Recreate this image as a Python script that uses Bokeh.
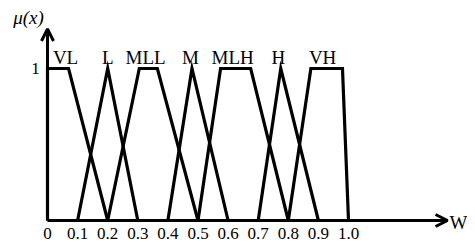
from bokeh.plotting import figure
from bokeh.models import Arrow, OpenHead, Range1d
from bokeh.core.properties import value
from bokeh.embed import file_html
from bokeh.resources import INLINE

# Membership function breakpoints
set_names = ["VL", "L", "MLL", "M", "MLH", "H", "VH"]
set_x = [
    [0.0, 0.0, 0.07, 0.2],
    [0.1, 0.2, 0.3],
    [0.2, 0.305, 0.365, 0.5],
    [0.4, 0.48, 0.6],
    [0.5, 0.575, 0.675, 0.8],
    [0.7, 0.775, 0.9],
    [0.8, 0.875, 0.98, 1.0],
]
set_mu = [
    [0, 1, 1, 0],
    [0, 1, 0],
    [0, 1, 1, 0],
    [0, 1, 0],
    [0, 1, 1, 0],
    [0, 1, 0],
    [0, 1, 1, 0],
]
label_x = [0.06, 0.2, 0.326, 0.475, 0.615, 0.767, 0.914]
tick_values = [0.0, 0.1, 0.2, 0.3, 0.4, 0.5, 0.6, 0.7, 0.8, 0.9, 1.0]
tick_labels = ["0", "0.1", "0.2", "0.3", "0.4", "0.5", "0.6", "0.7", "0.8", "0.9", "1.0"]

W, H = 467, 242
px_per_x = 301.0
px_per_y = 152.0
x0_px = 47.0
y0_px = 220.0  # from top

p = figure(width=W, height=H, output_backend="svg", toolbar_location=None,
           x_range=Range1d(-x0_px / px_per_x, (W - x0_px) / px_per_x),
           y_range=Range1d(-(H - y0_px) / px_per_y, y0_px / px_per_y),
           min_border=0)
p.xaxis.visible = False
p.yaxis.visible = False
p.xgrid.visible = False
p.ygrid.visible = False
p.outline_line_color = None
p.background_fill_color = "white"
p.border_fill_color = "white"

FONT = value("Liberation Serif")

p.multi_line(xs=set_x, ys=set_mu, line_color="black", line_width=3.2, line_join="miter")

# axes with arrows
x_end = 1.329
y_end = 1.26
p.add_layout(Arrow(x_start=0, y_start=0, x_end=x_end, y_end=0, line_width=3,
                   end=OpenHead(size=12, line_width=3, line_color="black")))
p.add_layout(Arrow(x_start=0, y_start=0, x_end=0, y_end=y_end, line_width=3,
                   end=OpenHead(size=12, line_width=3, line_color="black")))

# set labels
p.text(x=label_x, y=[1.072] * len(set_names), text=set_names, text_font=FONT,
       text_font_size="19px", text_align="center", text_baseline="middle", text_color="black")

# tick labels
p.text(x=tick_values, y=[-0.083] * len(tick_values), text=tick_labels, text_font=FONT,
       text_font_size="17px", text_align="center", text_baseline="middle", text_color="black")

# y tick "1"
p.text(x=[-0.04], y=[1.0], text=["1"], text_font=FONT, text_font_size="17px",
       text_align="center", text_baseline="middle", text_color="black")

# axis titles
p.text(x=[-0.063], y=[1.336], text=["\u03bc(x)"], text_font=FONT, text_font_size="19px",
       text_font_style="italic", text_align="center", text_baseline="middle", text_color="black")
p.text(x=[1.365], y=[-0.01], text=["W"], text_font=FONT, text_font_size="19px",
       text_align="center", text_baseline="middle", text_color="black")

open("out.html", "w").write(file_html(p, INLINE))
